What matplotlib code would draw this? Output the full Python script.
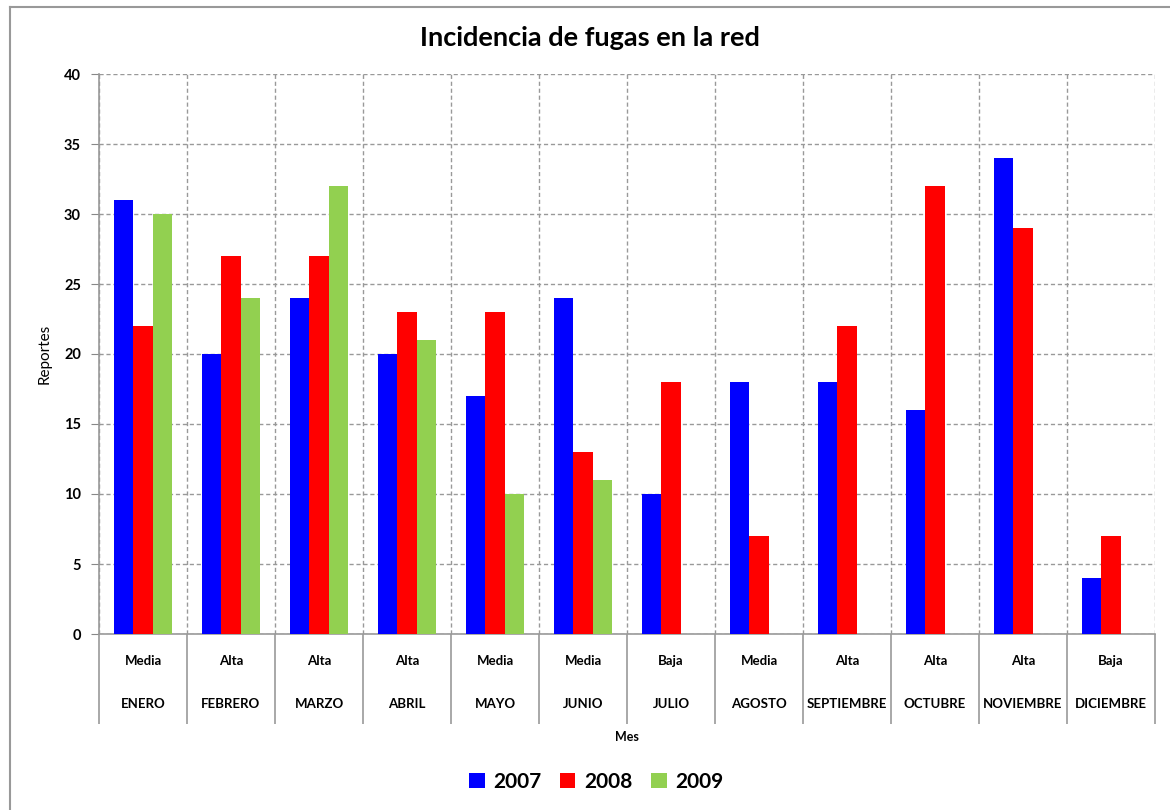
import numpy as np
import matplotlib.pyplot as plt
from matplotlib.lines import Line2D
from matplotlib.patches import Patch

# Data
meses = ["ENERO", "FEBRERO", "MARZO", "ABRIL", "MAYO", "JUNIO", "JULIO",
         "AGOSTO", "SEPTIEMBRE", "OCTUBRE", "NOVIEMBRE", "DICIEMBRE"]
nivel = ["Media", "Alta", "Alta", "Alta", "Media", "Media", "Baja",
         "Media", "Alta", "Alta", "Alta", "Baja"]
v2007 = [31, 20, 24, 20, 17, 24, 10, 18, 18, 16, 34, 4]
v2008 = [22, 27, 27, 23, 23, 13, 18, 7, 22, 32, 29, 7]
v2009 = [30, 24, 32, 21, 10, 11]  # no data after June

series = [("2007", v2007, "#0000FF"),
          ("2008", v2008, "#FF0000"),
          ("2009", v2009, "#92D050")]

plt.rcParams["font.family"] = ["Lato", "DejaVu Sans"]

fig = plt.figure(figsize=(11.7, 8.1), dpi=100)
ax = fig.add_axes([99 / 1170, 1 - 634 / 810, 1056 / 1170, 560 / 810])

w = 0.222
for k, (name, vals, col) in enumerate(series):
    x = np.arange(len(vals)) + 0.5 + (k - 1) * w
    ax.bar(x, vals, width=w, color=col, label=name, zorder=3)

ax.set_xlim(0, 12)
ax.set_ylim(0, 40)
ax.set_yticks(range(0, 41, 5))
ax.tick_params(axis="y", length=6, color="#888888", labelsize=10.5, pad=7)
for t in ax.get_yticklabels():
    t.set_fontweight("bold")

# category boundaries as long ticks below the axis
ax.set_xticks(range(0, 13))
ax.set_xticklabels([])
ax.tick_params(axis="x", length=65, color="#999999", width=1.2)

ax.grid(True, linestyle=(0, (3, 2)), color="#999999", linewidth=1, zorder=0)
for s in ["top", "right"]:
    ax.spines[s].set_visible(False)
ax.spines["left"].set_color("#999999")
ax.spines["bottom"].set_color("#999999")
ax.spines["left"].set_linewidth(1.2)
ax.spines["bottom"].set_linewidth(1.2)

trans = ax.get_xaxis_transform()
for i, (m, n) in enumerate(zip(meses, nivel)):
    ax.text(i + 0.5, -27 / 560, n, transform=trans, ha="center", va="center",
            fontsize=9.5, fontweight="bold")
    ax.text(i + 0.5, -70 / 560, m, transform=trans, ha="center", va="center",
            fontsize=9.5, fontweight="bold")

ax.text(0.5, -103 / 560, "Mes", transform=ax.transAxes, ha="center", va="center",
        fontsize=9, fontweight="bold")
fig.text(45 / 1170, 1 - 354 / 810, "Reportes", rotation=90, ha="center",
         va="center", fontsize=11)
fig.text(590 / 1170, 1 - 38 / 810, "Incidencia de fugas en la red", ha="center",
         va="center", fontsize=19.5, fontweight="bold")

handles = [Patch(facecolor=c, label=n) for n, _, c in series]
leg = fig.legend(handles=handles, loc="center", bbox_to_anchor=(596 / 1170, 1 - 782 / 810),
                 ncol=3, frameon=False, prop={"size": 15, "weight": "bold"},
                 handlelength=0.75, handleheight=0.75, handletextpad=0.4, columnspacing=0.9)

# outer chart frame
fig.add_artist(Line2D([10 / 1170, 10 / 1170], [0, 1 - 7 / 810], color="#999999",
                      linewidth=1.5, transform=fig.transFigure))
fig.add_artist(Line2D([10 / 1170, 1], [1 - 7 / 810, 1 - 7 / 810], color="#999999",
                      linewidth=1.5, transform=fig.transFigure))

fig.savefig("out.png", dpi=100)
